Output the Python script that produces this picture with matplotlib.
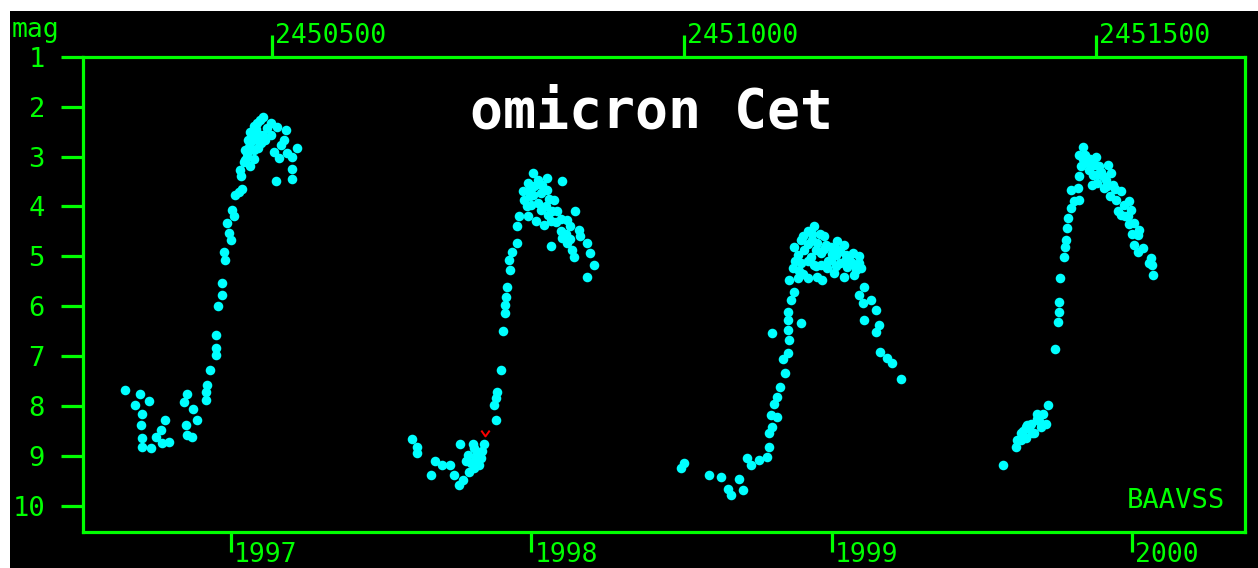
import matplotlib
matplotlib.use('Agg')
import matplotlib.pyplot as plt
import matplotlib.transforms as mtransforms
from matplotlib.patches import Rectangle
from matplotlib.path import Path

# ---------------- data ----------------
JD0 = 2450000
# cycle 1 (1996-97)
jd1 = [321, 339, 350, 333, 342, 340, 342, 342, 352, 358, 364, 369, 374, 366, 396, 393, 404, 408, 395, 396,
       402, 421, 419, 419, 424, 431, 431, 431, 434, 439, 439, 442, 441, 449, 447, 445, 453, 451, 455, 463,
       459, 461, 465, 469, 473, 473, 481, 489, 498, 481, 477, 473, 491, 506, 516, 514, 502, 508, 518, 530,
       524, 524, 524, 504, 485, 477, 493, 470, 466, 466, 498, 510, 488, 483,
       469, 478, 476, 480, 483, 486, 471, 462]
mag1 = [7.68, 7.76, 7.90, 7.98, 8.15, 8.38, 8.65, 8.82, 8.85, 8.62, 8.48, 8.27, 8.72, 8.74, 7.75, 7.91, 8.05, 8.28, 8.38, 8.58,
        8.62, 7.58, 7.88, 7.72, 7.28, 6.58, 6.84, 6.98, 5.99, 5.77, 5.53, 5.07, 4.91, 4.67, 4.54, 4.34, 4.20, 4.07, 3.77, 3.65,
        3.71, 3.27, 3.10, 2.93, 2.73, 2.50, 2.33, 2.20, 2.33, 2.66, 2.87, 3.20, 2.66, 2.40, 2.46, 2.66, 2.90, 3.03, 2.93, 2.83,
        3.00, 3.25, 3.45, 3.49, 2.26, 2.38, 2.42, 2.66, 2.87, 3.07, 2.56, 2.77, 2.56, 2.83,
        3.00, 3.05, 2.60, 2.45, 2.55, 2.72, 2.80, 3.40]
# cycle 2 (1997-98)
jd2 = [670, 676, 675, 698, 706, 716, 692, 720, 726, 732, 728, 743, 757, 737, 749, 741, 751, 739, 745, 753,
       771, 769, 773, 771, 778, 780, 783, 783, 784, 785, 788, 787, 791, 797, 797, 799, 804, 810, 816, 822,
       834, 852, 806, 810, 820, 830, 822, 832, 842, 846, 838, 850, 858, 868, 862, 872, 874, 858, 864, 866,
       882, 886, 890, 882, 838, 826, 834, 811, 814, 826, 835, 844, 852, 828, 817,
       813, 818, 824, 836, 840, 809, 850, 856, 862, 745, 747, 735, 755]
mag2 = [8.67, 8.82, 8.95, 9.10, 9.18, 9.18, 9.39, 9.39, 9.59, 9.49, 8.76, 8.76, 8.76, 8.98, 8.95, 9.15, 9.18, 9.32, 9.25, 9.05,
        8.27, 7.98, 7.71, 7.84, 7.28, 6.49, 6.14, 5.97, 5.81, 5.62, 5.27, 5.07, 4.91, 4.74, 4.40, 4.20, 3.70, 3.53, 3.33, 3.47,
        3.43, 3.50, 3.87, 4.20, 4.30, 4.37, 3.93, 4.00, 3.87, 4.10, 4.30, 4.50, 4.27, 4.10, 4.40, 4.47, 4.60, 4.74, 4.87, 5.01,
        4.74, 4.94, 5.17, 5.41, 4.79, 3.73, 3.67, 3.67, 3.97, 4.07, 4.17, 4.31, 4.63, 3.57, 3.77,
        3.80, 3.60, 3.55, 3.85, 4.10, 4.00, 4.25, 4.55, 4.65, 8.85, 9.05, 9.10, 8.90]
# cycle 3 (1998-99)
jd3 = [996, 1000, 1030, 1045, 1053, 1057, 1067, 1072, 1077, 1081, 1091, 1101, 1103, 1103, 1107, 1105, 1113, 1109, 1113, 1117,
       1122, 1120, 1126, 1107, 1128, 1126, 1142, 1126, 1126, 1130, 1134, 1128, 1132, 1134, 1142, 1150, 1158, 1170, 1186, 1194,
       1205, 1213, 1215, 1207, 1194, 1182, 1168, 1162, 1150, 1138, 1142, 1154, 1166, 1178, 1190, 1146, 1162, 1178, 1198, 1174,
       1219, 1213, 1217, 1227, 1233, 1237, 1233, 1218, 1238, 1247, 1253, 1263,
       1160, 1172, 1184, 1197, 1158, 1166, 1203, 1209, 1138, 1155,
       1145, 1150, 1155, 1165, 1170, 1180, 1185, 1190, 1200, 1195, 1185, 1175, 1160, 1150, 1140, 1135, 1145, 1205, 1212]
mag3 = [9.25, 9.15, 9.39, 9.43, 9.67, 9.79, 9.47, 9.69, 9.05, 9.18, 9.08, 9.02, 8.82, 8.55, 8.42, 8.18, 8.22, 7.95, 7.81, 7.61,
        7.33, 7.06, 6.94, 6.53, 6.68, 6.48, 6.33, 6.28, 6.11, 5.87, 5.71, 5.47, 5.24, 4.81, 4.67, 4.50, 4.40, 4.60, 4.70, 4.77,
        4.94, 5.14, 5.24, 5.37, 5.41, 5.34, 5.47, 5.41, 5.44, 5.44, 5.14, 5.01, 4.94, 5.07, 5.14, 4.87, 4.74, 4.81, 5.21, 5.24,
        5.61, 5.77, 5.94, 5.87, 6.08, 6.38, 6.51, 6.28, 6.91, 7.04, 7.14, 7.45,
        4.87, 4.77, 4.97, 4.97, 5.17, 5.17, 5.11, 5.27, 4.97, 4.67,
        4.60, 4.75, 4.55, 4.55, 4.85, 4.95, 4.85, 4.90, 5.00, 5.10, 5.20, 5.10, 5.20, 5.10, 5.30, 5.10, 5.35, 5.15, 5.00]
# cycle 4 (1999-2000)
jd4 = [1387, 1403, 1409, 1405, 1415, 1417, 1421, 1423, 1425, 1434, 1429, 1429, 1436, 1442, 1440, 1415, 1409,
       1450, 1454, 1455, 1456, 1457, 1462, 1463, 1464, 1465, 1466, 1470, 1474, 1480, 1470, 1478, 1480, 1482, 1480,
       1485, 1490, 1500, 1504, 1515, 1519, 1502, 1510, 1517, 1521, 1531, 1527, 1535, 1541, 1543, 1539, 1547, 1553,
       1551, 1547, 1557, 1551, 1567, 1569, 1565, 1570,
       1492, 1497, 1506, 1513, 1498, 1487, 1525, 1531, 1495,
       1484, 1493, 1503, 1509, 1514, 1524, 1536, 1540, 1544, 1412, 1419, 1431]
mag4 = [9.18, 8.82, 8.55, 8.68, 8.42, 8.38, 8.35, 8.55, 8.55, 8.42, 8.25, 8.15, 8.15, 7.98, 8.35, 8.65, 8.68,
        6.86, 6.31, 6.11, 5.91, 5.44, 5.01, 4.81, 4.67, 4.44, 4.24, 4.04, 3.90, 3.87, 3.67, 3.63, 3.40, 3.20, 2.97,
        2.80, 3.10, 3.00, 3.20, 3.17, 3.33, 3.53, 3.63, 3.80, 3.57, 3.70, 4.10, 3.97, 3.90, 4.07, 4.20, 4.34, 4.47,
        4.57, 4.77, 4.84, 4.91, 5.04, 5.17, 5.13, 5.37,
        3.27, 3.37, 3.31, 3.47, 3.17, 2.97, 3.87, 4.17, 3.57,
        3.05, 3.05, 3.35, 3.40, 3.60, 3.65, 4.20, 4.35, 4.55, 8.50, 8.45, 8.30]
# fainter-than observation
jd_lim = [758]
mag_lim = [8.55]

jd_ticks = [2450500, 2451000, 2451500]
jd_labels = ['2450500', '2451000', '2451500']
year_jd = [2450449.5, 2450814.5, 2451179.5, 2451544.5]
year_labels = ['1997', '1998', '1999', '2000']
mag_ticks = [1, 2, 3, 4, 5, 6, 7, 8, 9, 10]
title = 'omicron Cet'

# ---------------- style ----------------
W, H, DPI = 1258, 568, 100
GREEN = '#00ff00'
CYAN = '#00ffff'
MONO = 'DejaVu Sans Mono'
LW = 2.3

fig = plt.figure(figsize=(W / DPI, H / DPI), dpi=DPI, facecolor='white')
fig.patches.append(Rectangle((10 / W, 0), 1, (H - 11) / H, transform=fig.transFigure,
                             facecolor='black', edgecolor='none', zorder=-10))

L, R, T, B = 82.5, 1245, 56.7, 532.3
ax = fig.add_axes([L / W, (H - B) / H, (R - L) / W, (B - T) / H])
ax.set_facecolor('black')
ax.set_xlim(2450269.2, 2451681.4)
ax.set_ylim(10.53, 1.0)

for sp in ax.spines.values():
    sp.set_color(GREEN)
    sp.set_linewidth(LW)

x_all = [JD0 + v for v in jd1 + jd2 + jd3 + jd4]
y_all = mag1 + mag2 + mag3 + mag4
ax.plot(x_all, y_all, linestyle='none', marker='o', markersize=6.9,
        markerfacecolor=CYAN, markeredgecolor='none', zorder=3, clip_on=False)

vpath = Path([(-1, 0.7), (0, -0.7), (1, 0.7)], [Path.MOVETO, Path.LINETO, Path.LINETO])
ax.plot([JD0 + v for v in jd_lim], mag_lim, linestyle='none', marker=vpath, markersize=6,
        markerfacecolor='none', markeredgecolor='red', markeredgewidth=1.4, zorder=4)

# y axis
ax.set_yticks(mag_ticks)
ax.set_yticklabels([str(m) for m in mag_ticks])
ax.tick_params(axis='y', direction='out', length=16, width=LW, color=GREEN,
               labelcolor=GREEN, labelsize=19.5, pad=11)
for lab in ax.get_yticklabels():
    lab.set_family(MONO)

# bottom axis: year ticks
ax.set_xticks(year_jd)
ax.set_xticklabels([])
ax.tick_params(axis='x', direction='out', length=14.5, width=LW, color=GREEN, bottom=True, top=False)

# top axis: JD ticks
axt = ax.secondary_xaxis('top')
axt.set_xticks(jd_ticks)
axt.set_xticklabels([])
axt.tick_params(axis='x', direction='out', length=16, width=LW, color=GREEN)
axt.spines['top'].set_visible(False)

off = mtransforms.ScaledTranslation(3 / DPI, 0, fig.dpi_scale_trans)
tr = mtransforms.blended_transform_factory(ax.transData, fig.transFigure) + off
for x, s in zip(jd_ticks, jd_labels):
    fig.text(x, 1 - 43 / H, s, transform=tr, ha='left', va='baseline',
             color=GREEN, fontsize=19, family=MONO)
for x, s in zip(year_jd, year_labels):
    fig.text(x, 1 - 562 / H, s, transform=tr, ha='left', va='baseline',
             color=GREEN, fontsize=19, family=MONO)

fig.text(12 / W, 1 - 37 / H, 'mag', ha='left', va='baseline', color=GREEN, fontsize=19, family=MONO)
fig.text(1127 / W, 1 - 508 / H, 'BAAVSS', ha='left', va='baseline', color=GREEN, fontsize=19.5, family=MONO)
fig.text(651 / W, 1 - 128 / H, title, ha='center', va='baseline', color='white',
         fontsize=39.5, fontweight='bold', family=MONO)

fig.savefig('out.png', dpi=DPI, facecolor='white')
